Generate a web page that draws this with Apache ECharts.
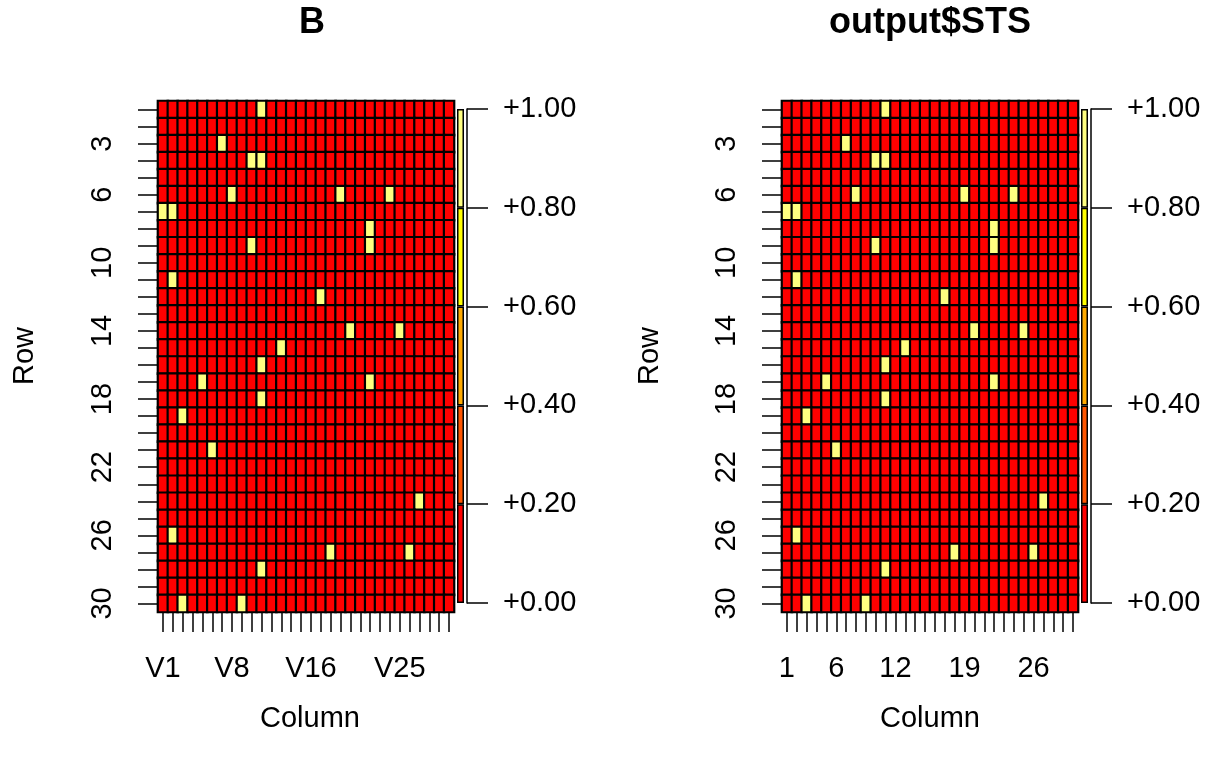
<!DOCTYPE html>
<html>
<head>
<meta charset="utf-8">
<script src="https://cdn.jsdelivr.net/npm/echarts@6/dist/echarts.min.js"></script>
<style>
  html, body { margin: 0; padding: 0; background: #fff; }
  #main { width: 1218px; height: 764px; }
</style>
</head>
<body>
<div id="main"></div>
<script>
// 30 x 30 matrices, 1-based [row, column] of the cells equal to 1
var nRows = 30;
var nCols = 30;
var onesB = [
  [1, 11], [3, 7], [4, 10], [4, 11], [6, 8], [6, 19], [6, 24], [7, 1], [7, 2],
  [8, 22], [9, 10], [9, 22], [11, 2], [12, 17], [14, 20], [14, 25], [15, 13],
  [16, 11], [17, 5], [17, 22], [18, 11], [19, 3], [21, 6], [24, 27], [26, 2],
  [27, 18], [27, 26], [28, 11], [30, 3], [30, 9]
];
var onesSTS = [
  [1, 11], [3, 7], [4, 10], [4, 11], [6, 8], [6, 19], [6, 24], [7, 1], [7, 2],
  [8, 22], [9, 10], [9, 22], [11, 2], [12, 17], [14, 20], [14, 25], [15, 13],
  [16, 11], [17, 5], [17, 22], [18, 11], [19, 3], [21, 6], [24, 27], [26, 2],
  [27, 18], [27, 26], [28, 11], [30, 3], [30, 9]
];
// tick labels that R actually printed
var rowLabels = ['3', '6', '10', '14', '18', '22', '26', '30'];
var colLabelsB = ['V1', 'V8', 'V16', 'V25'];
var colLabelsSTS = ['1', '6', '12', '19', '26'];
// colour key (heat.colors(5))
var keyBreaks = [0, 0.2, 0.4, 0.6, 0.8, 1];
var keyColors = ['#FF0000', '#FF5500', '#FFAA00', '#FFFF00', '#FFFF80'];

var FONT = 'Liberation Sans, Arial, sans-serif';
var rowCats = [], colCatsB = [], colCatsSTS = [];
for (var i = 1; i <= nRows; i++) rowCats.push(String(i));
for (var j = 1; j <= nCols; j++) { colCatsB.push('V' + j); colCatsSTS.push(String(j)); }

function matrixData(ones) {
  var m = [];
  for (var r = 0; r < nRows; r++) {
    for (var c = 0; c < nCols; c++) m.push([c, r, 0]);
  }
  ones.forEach(function (p) { m[(p[0] - 1) * nCols + (p[1] - 1)][2] = 1; });
  return m;
}

function catX(idx, cats, shown) {
  return {
    type: 'category', gridIndex: idx, data: cats, position: 'bottom',
    axisLine: { show: false },
    axisTick: { show: true, alignWithLabel: true, interval: 0, length: 20,
                lineStyle: { color: '#000', width: 1.5 } },
    axisLabel: {
      interval: function (i, v) { return shown.indexOf(v) >= 0; },
      margin: 42, fontSize: 29, color: '#000', fontFamily: FONT
    },
    splitLine: { show: false }
  };
}
function catY(idx) {
  return {
    type: 'category', gridIndex: idx, data: rowCats, inverse: true,
    axisLine: { show: false },
    axisTick: { show: true, alignWithLabel: true, interval: 0, length: 20,
                lineStyle: { color: '#000', width: 1.5 } },
    axisLabel: {
      interval: function (i, v) { return rowLabels.indexOf(v) >= 0; },
      rotate: 90, margin: 41, fontSize: 29, color: '#000', fontFamily: FONT
    },
    splitLine: { show: false }
  };
}
function keyX(idx) {
  return { type: 'category', gridIndex: idx, data: [''], show: false };
}
function keyY(idx) {
  return {
    type: 'value', gridIndex: idx, min: 0, max: 1, interval: 0.2,
    position: 'right', offset: 3,
    axisLine: { show: true, lineStyle: { color: '#000', width: 1.5 } },
    axisTick: { show: true, length: 21, lineStyle: { color: '#000', width: 1.5 } },
    axisLabel: {
      margin: 36, fontSize: 29, color: '#000', fontFamily: FONT,
      formatter: function (v) { return '+' + v.toFixed(2); }
    },
    splitLine: { show: false }
  };
}
function keySeries(idx, stack) {
  return keyColors.map(function (col, k) {
    return {
      type: 'bar', xAxisIndex: idx, yAxisIndex: idx, stack: stack,
      barWidth: '100%', silent: true,
      data: [keyBreaks[k + 1] - keyBreaks[k]],
      itemStyle: { color: col, borderColor: '#000', borderWidth: 1.5 }
    };
  });
}

var chart = echarts.init(document.getElementById('main'));
var option = {
  animation: false,
  backgroundColor: '#fff',
  grid: [
    { left: 158, top: 101, width: 296, height: 511 },
    { left: 457, top: 109, width: 7, height: 494 },
    { left: 782, top: 101, width: 296, height: 511 },
    { left: 1081, top: 109, width: 7, height: 494 }
  ],
  xAxis: [catX(0, colCatsB, colLabelsB), keyX(1), catX(2, colCatsSTS, colLabelsSTS), keyX(3)],
  yAxis: [catY(0), keyY(1), catY(2), keyY(3)],
  visualMap: {
    type: 'piecewise', show: false, seriesIndex: [0, 1], dimension: 2,
    pieces: keyColors.map(function (col, k) {
      return { gte: keyBreaks[k], lt: keyBreaks[k + 1] + (k === keyColors.length - 1 ? 0.01 : 0), color: col };
    })
  },
  series: [
    {
      type: 'heatmap', xAxisIndex: 0, yAxisIndex: 0, data: matrixData(onesB),
      itemStyle: { borderColor: '#000', borderWidth: 2.2 }, silent: true
    },
    {
      type: 'heatmap', xAxisIndex: 2, yAxisIndex: 2, data: matrixData(onesSTS),
      itemStyle: { borderColor: '#000', borderWidth: 2.2 }, silent: true
    }
  ].concat(keySeries(1, 'keyB'), keySeries(3, 'keySTS')),
  graphic: [
    { type: 'text', x: 312, y: 23, style: { text: 'B', font: 'bold 36px ' + FONT, fill: '#000', align: 'center', verticalAlign: 'middle' } },
    { type: 'text', x: 930, y: 23, style: { text: 'output$STS', font: 'bold 36px ' + FONT, fill: '#000', align: 'center', verticalAlign: 'middle' } },
    { type: 'text', x: 310, y: 719, style: { text: 'Column', font: '29px ' + FONT, fill: '#000', align: 'center', verticalAlign: 'middle' } },
    { type: 'text', x: 930, y: 719, style: { text: 'Column', font: '29px ' + FONT, fill: '#000', align: 'center', verticalAlign: 'middle' } },
    { type: 'text', x: 25, y: 356, rotation: Math.PI / 2, style: { text: 'Row', font: '29px ' + FONT, fill: '#000', align: 'center', verticalAlign: 'middle' } },
    { type: 'text', x: 650, y: 356, rotation: Math.PI / 2, style: { text: 'Row', font: '29px ' + FONT, fill: '#000', align: 'center', verticalAlign: 'middle' } }
  ]
};
chart.setOption(option);
</script>
</body>
</html>
